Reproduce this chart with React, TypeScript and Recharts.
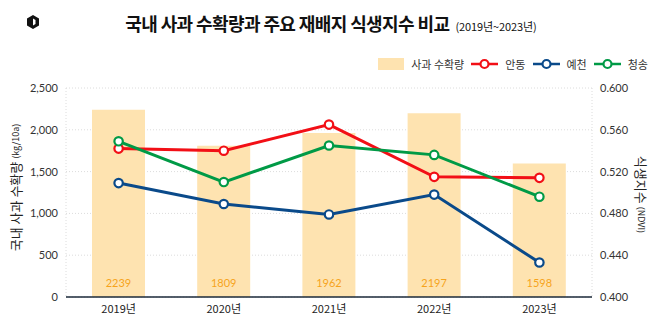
import React from 'react';
import {
  ComposedChart,
  Bar,
  Line,
  XAxis,
  YAxis,
  CartesianGrid,
  Legend,
  LabelList,
} from 'recharts';

const years = ['2019년', '2020년', '2021년', '2022년', '2023년'];
const harvest = [2239, 1809, 1962, 2197, 1598];
const andong = [0.542, 0.54, 0.565, 0.515, 0.514];
const yecheon = [0.509, 0.489, 0.479, 0.498, 0.433];
const cheongsong = [0.549, 0.51, 0.545, 0.536, 0.496];
const leftTicks = [0, 500, 1000, 1500, 2000, 2500];
const rightTicks = [0.4, 0.44, 0.48, 0.52, 0.56, 0.6];

const data = years.map((y, i) => ({
  year: y,
  harvest: harvest[i],
  andong: andong[i],
  yecheon: yecheon[i],
  cheongsong: cheongsong[i],
}));

const FONT = '"Noto Sans CJK KR", "Noto Sans", sans-serif';
const NUMFONT = '"Lato", "Noto Sans CJK KR", sans-serif';
const BAR = '#fee3b0';
const RED = '#f20f16';
const BLUE = '#0a4a8a';
const GREEN = '#009a46';

const legendItems = [
  { key: 'bar', label: '사과 수확량', color: BAR },
  { key: 'andong', label: '안동', color: RED },
  { key: 'yecheon', label: '예천', color: BLUE },
  { key: 'cheongsong', label: '청송', color: GREEN },
];

const LegendContent = () => (
  <div style={{ display: 'flex', alignItems: 'center', fontFamily: FONT, fontSize: 11, color: '#333' }}>
    {legendItems.map((it) => (
      <div key={it.key} style={{ display: 'flex', alignItems: 'center', marginLeft: 7 }}>
        {it.key === 'bar' ? (
          <div style={{ width: 26, height: 12, background: it.color, marginRight: 7 }} />
        ) : (
          <svg width={27} height={12} style={{ marginRight: 7 }}>
            <line x1={0} y1={6} x2={27} y2={6} stroke={it.color} strokeWidth={2.5} />
            <circle cx={13.5} cy={6} r={4} fill="#fff" stroke={it.color} strokeWidth={2.2} />
          </svg>
        )}
        <span>{it.label}</span>
      </div>
    ))}
  </div>
);

const BarLabel = (props: any) => {
  const { x, y, width, height, value } = props;
  return (
    <text
      x={x + width / 2}
      y={y + height - 13}
      textAnchor="middle"
      dominantBaseline="middle"
      fill="#f6a31c"
      fontSize={11}
      fontFamily={NUMFONT}
    >
      {value}
    </text>
  );
};

const LeftTitle = (props: any) => {
  const vb = props.viewBox;
  const cx = 17;
  const cy = vb.y + vb.height / 2 - 5;
  return (
    <text
      x={cx}
      y={cy}
      transform={`rotate(-90 ${cx} ${cy})`}
      textAnchor="middle"
      dominantBaseline="middle"
      fontFamily={FONT}
      fill="#222"
    >
      <tspan fontSize={13}>국내 사과 수확량 </tspan>
      <tspan fontSize={9}>(kg/10a)</tspan>
    </text>
  );
};

const RightTitle = (props: any) => {
  const vb = props.viewBox;
  const cx = 640;
  const cy = vb.y + vb.height / 2 + 2;
  return (
    <text
      x={cx}
      y={cy}
      transform={`rotate(90 ${cx} ${cy})`}
      textAnchor="middle"
      dominantBaseline="middle"
      fontFamily={FONT}
      fill="#222"
    >
      <tspan fontSize={13}>식생지수 </tspan>
      <tspan fontSize={9}>(NDVI)</tspan>
    </text>
  );
};

const dot = (color: string) => ({ r: 4.2, fill: '#fff', stroke: color, strokeWidth: 2.2 });

export default function App() {
  return (
    <div style={{ position: 'absolute', left: 0, top: 0, width: 658, height: 329, background: '#fff' }}>
      <svg width={14} height={14} viewBox="0 0 14 14" style={{ position: 'absolute', left: 26, top: 15 }}>
        <path d="M7 0 L13 3.5 L13 10.5 L7 14 L1 10.5 L1 3.5 Z M7 3.5 L7 10.5 L9.5 9 L9.5 5 Z" fill="#111" fillRule="evenodd" />
      </svg>
      <div
        style={{
          position: 'absolute',
          left: 0,
          top: 10,
          width: 662,
          textAlign: 'center',
          fontFamily: FONT,
          color: '#111',
          whiteSpace: 'nowrap',
        }}
      >
        <span style={{ fontSize: 18, fontWeight: 700, letterSpacing: -0.6 }}>국내 사과 수확량과 주요 재배지 식생지수 비교</span>
        <span style={{ fontSize: 11, marginLeft: 6, letterSpacing: -0.1 }}>(2019년~2023년)</span>
      </div>
      <ComposedChart
        width={658}
        height={329}
        data={data}
        margin={{ top: 88, right: 0, left: 0, bottom: 2 }}
      >
        <CartesianGrid
          stroke="#dcdcdc"
          strokeDasharray="1 2"
          yAxisId="left"
          verticalCoordinatesGenerator={({ offset }: any) => [offset.left, offset.left + offset.width]}
        />
        <XAxis
          dataKey="year"
          tickLine={false}
          axisLine={{ stroke: '#1b2a3a', strokeWidth: 1.5 }}
          tick={{ fontSize: 11, fill: '#222', fontFamily: FONT }}
        />
        <YAxis
          yAxisId="left"
          width={66}
          domain={[0, 2500]}
          ticks={leftTicks}
          tickFormatter={(v: number) => v.toLocaleString('en-US')}
          tickLine={false}
          axisLine={false}
          tick={{ fontSize: 11, fill: '#333', fontFamily: NUMFONT }}
          label={<LeftTitle />}
        />
        <YAxis
          yAxisId="right"
          orientation="right"
          width={66}
          domain={[0.4, 0.6]}
          ticks={rightTicks}
          tickFormatter={(v: number) => v.toFixed(3)}
          tickLine={false}
          axisLine={false}
          tick={{ fontSize: 11, fill: '#333', fontFamily: NUMFONT, textAnchor: 'start' }}
          label={<RightTitle />}
        />
        <Legend
          verticalAlign="middle"
          align="center"
          layout="horizontal"
          content={<LegendContent />}
          wrapperStyle={{ position: 'absolute', top: 56, right: 10, left: 'auto', width: 'auto', height: 14 }}
        />
        <Bar yAxisId="left" dataKey="harvest" fill={BAR} barSize={53} isAnimationActive={false}>
          <LabelList dataKey="harvest" content={<BarLabel />} />
        </Bar>
        <Line yAxisId="right" dataKey="andong" stroke={RED} strokeWidth={3} dot={dot(RED)} activeDot={false} isAnimationActive={false} />
        <Line yAxisId="right" dataKey="yecheon" stroke={BLUE} strokeWidth={3} dot={dot(BLUE)} activeDot={false} isAnimationActive={false} />
        <Line yAxisId="right" dataKey="cheongsong" stroke={GREEN} strokeWidth={3} dot={dot(GREEN)} activeDot={false} isAnimationActive={false} />
      </ComposedChart>
    </div>
  );
}
